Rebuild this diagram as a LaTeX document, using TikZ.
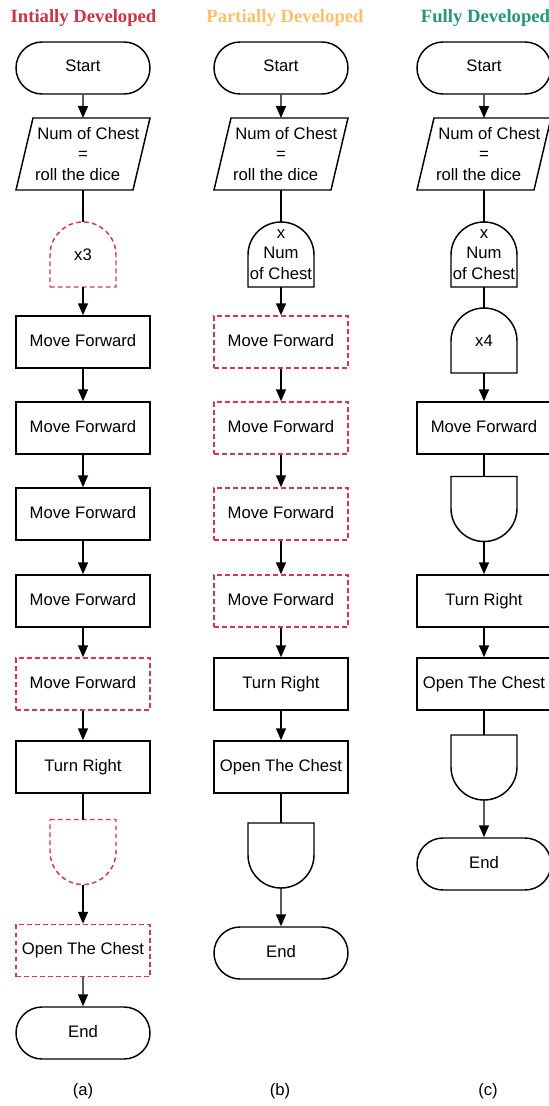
\documentclass[tikz,border=0pt]{standalone}
\usepackage{fontspec}
\setmainfont{Liberation Sans}
\newfontfamily\headfont{Liberation Serif}
\usetikzlibrary{arrows.meta,shapes.misc}

\definecolor{flowred}{RGB}{212,56,76}
\definecolor{headred}{RGB}{204,51,68}
\definecolor{headorange}{RGB}{255,192,110}
\definecolor{headteal}{RGB}{38,150,122}

\tikzset{
  base/.style={font=\fontsize{12.5}{15.5}\selectfont, align=center, inner sep=0pt, line width=1.1pt},
  oneline/.style={text height=9pt, text depth=3pt},
  term/.style={base, oneline, draw, rounded rectangle, minimum width=100.5pt, minimum height=39pt},
  proc/.style={base, oneline, draw, rectangle, minimum width=100.5pt, minimum height=39pt},
  io/.style={base, outer sep=0pt, minimum width=100.5pt, minimum height=54pt},
  dome/.style={base, outer sep=0pt, minimum width=49.5pt, minimum height=48.75pt},
  todo/.style={draw=flowred, dash pattern=on 3.5pt off 2.5pt},
  flow/.style={line width=1.1pt, -{Triangle[width=7.5pt,length=9pt]}},
  link/.style={line width=1.1pt},
  head/.style={font=\headfont\bfseries\fontsize{14}{16}\selectfont},
  caption/.style={font=\fontsize{12.5}{15}\selectfont}
}

% text of the dice-roll input box
\newcommand\DiceText{\hspace*{8pt}Num of Chest\\=\\roll the dice\hspace*{8pt}}
% outline of a data (input) box drawn around a plain node
\newcommand\DataBox[2][]{\draw[link,#1] (#2.south west) -- ++(117,0) -- (#2.north east) -- ++(-117,0) -- cycle;}
% loop start: flat bottom, round top
\newcommand\DomeUp[2][]{\draw[link,#1] (#2.south west) -- (#2.south east) -- ++(0,32) arc[start angle=0,end angle=180,radius=33] -- cycle;}
% loop end: flat top, round bottom
\newcommand\DomeDown[2][]{\draw[link,#1] (#2.north west) -- (#2.north east) -- ++(0,-32) arc[start angle=0,end angle=-180,radius=33] -- cycle;}

\begin{document}
\begin{tikzpicture}[x=0.75pt,y=0.75pt]
\useasboundingbox (0,0) rectangle (549,-1106);
\clip (0,0) rectangle (549,-1106);

% headings
\node[head,text=headred]    (ha) at (83.5,-18) {Intially Developed};
\node[head,text=headorange] (hb) at (285,-18)  {Partially Developed};
\node[head,text=headteal]   (hc) at (485.5,-18) {Fully Developed};

% ---------- column (a)
\node[term] (a0) at (83,-68) {Start};
\node[io] (a1) at (83,-154) {\DiceText};
\DataBox{a1}
\node[dome] (a2) at (83,-254.5) {x3};
\DomeUp[todo]{a2}
\node[proc] (a3) at (83,-342) {Move Forward};
\node[proc] (a4) at (83,-428) {Move Forward};
\node[proc] (a5) at (83,-514) {Move Forward};
\node[proc] (a6) at (83,-601) {Move Forward};
\node[proc,todo] (a7) at (83,-684) {Move Forward};
\node[proc] (a8) at (83,-767) {Turn Right};
\node[dome] (a9) at (83,-852) {};
\DomeDown[todo]{a9}
\node[proc,todo] (a10) at (83,-950.5) {Open The Chest};
\node[term] (a11) at (83,-1033) {End};

\draw[flow] (a0) -- (a1);
\draw[link] (a1) -- (a2);
\draw[flow] (a2) -- (a3);
\draw[flow] (a3) -- (a4);
\draw[flow] (a4) -- (a5);
\draw[flow] (a5) -- (a6);
\draw[flow] (a6) -- (a7);
\draw[flow] (a7) -- (a8);
\draw[link] (a8) -- (a9);
\draw[flow] (a9) -- (a10);
\draw[flow] (a10) -- (a11);

% ---------- column (b)
\node[term] (b0) at (281,-68) {Start};
\node[io] (b1) at (281,-154) {\DiceText};
\DataBox{b1}
\node[dome] (b2) at (281,-254.5) {x\\Num\\of Chest};
\DomeUp{b2}
\node[proc,todo] (b3) at (281,-342) {Move Forward};
\node[proc,todo] (b4) at (281,-428) {Move Forward};
\node[proc,todo] (b5) at (281,-514) {Move Forward};
\node[proc,todo] (b6) at (281,-601) {Move Forward};
\node[proc] (b7) at (281,-684) {Turn Right};
\node[proc] (b8) at (281,-767) {Open The Chest};
\node[dome] (b9) at (281,-855.5) {};
\DomeDown{b9}
\node[term] (b10) at (281,-953) {End};

\draw[flow] (b0) -- (b1);
\draw[link] (b1) -- (b2);
\draw[flow] (b2) -- (b3);
\draw[flow] (b3) -- (b4);
\draw[flow] (b4) -- (b5);
\draw[flow] (b5) -- (b6);
\draw[flow] (b6) -- (b7);
\draw[flow] (b7) -- (b8);
\draw[link] (b8) -- (b9);
\draw[flow] (b9) -- (b10);

% ---------- column (c)
\node[term] (c0) at (484,-68) {Start};
\node[io] (c1) at (484,-154) {\DiceText};
\DataBox{c1}
\node[dome] (c2) at (484,-254.5) {x\\Num\\of Chest};
\DomeUp{c2}
\node[dome] (c3) at (484,-340.5) {x4};
\DomeUp{c3}
\node[proc] (c4) at (484,-428) {Move Forward};
\node[dome] (c5) at (484,-509) {};
\DomeDown{c5}
\node[proc] (c6) at (484,-601) {Turn Right};
\node[proc] (c7) at (484,-684) {Open The Chest};
\node[dome] (c8) at (484,-767.5) {};
\DomeDown{c8}
\node[term] (c9) at (484,-864) {End};

\draw[flow] (c0) -- (c1);
\draw[link] (c1) -- (c2);
\draw[link] (c2) -- (c3);
\draw[flow] (c3) -- (c4);
\draw[link] (c4) -- (c5);
\draw[flow] (c5) -- (c6);
\draw[flow] (c6) -- (c7);
\draw[link] (c7) -- (c8);
\draw[flow] (c8) -- (c9);

% captions
\node[caption] (capa) at (83,-1091)  {(a)};
\node[caption] (capb) at (280,-1091) {(b)};
\node[caption] (capc) at (488,-1091) {(c)};
\end{tikzpicture}
\end{document}
